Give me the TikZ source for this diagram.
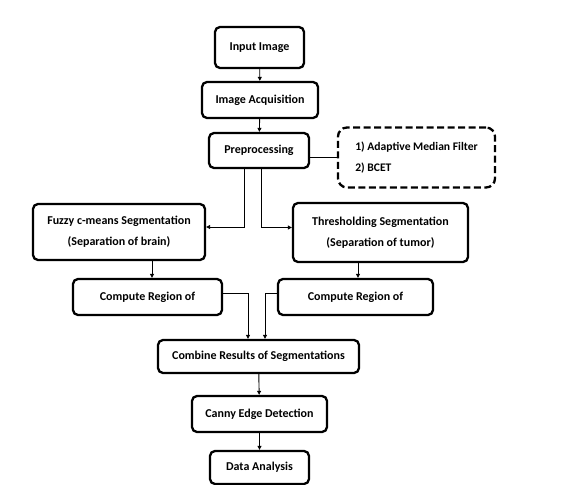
\documentclass[tikz,border=0pt]{standalone}
\usepackage{fontspec}
\setmainfont{Carlito}
\usetikzlibrary{arrows.meta}

\begin{document}
\begin{tikzpicture}[x=1pt,y=-1pt,
  stage/.style={draw,line width=2.3pt,rounded corners=5pt,align=center,
    font=\bfseries\fontsize{12}{21}\selectfont,inner sep=1pt},
  note/.style={draw,line width=2.3pt,dash pattern=on 7pt off 3.5pt,rounded corners=9pt,
    align=left,font=\bfseries\fontsize{11.6}{21}\selectfont,inner sep=1pt},
  link/.style={line width=0.9pt,-{Triangle[length=4pt,width=4pt]}}]
\useasboundingbox (0,0) rectangle (563,485);

\node[stage,minimum width=89,minimum height=41] (input) at (259.5,47.5) {Input Image};
\node[stage,minimum width=116,minimum height=36] (acq) at (260,100) {Image Acquisition};
\node[stage,minimum width=100,minimum height=35] (pre) at (259,150.5) {Preprocessing};
\node[note,minimum width=157,minimum height=60] (filt) at (416.5,157.5)
  {1) Adaptive Median Filter\\2) BCET};
\node[stage,minimum width=172,minimum height=56] (fuzzy) at (119,232)
  {Fuzzy c-means Segmentation\\(Separation of brain)};
\node[stage,minimum width=175,minimum height=59] (thresh) at (380.5,232.5)
  {Thresholding Segmentation\\(Separation of tumor)};
\node[stage,minimum width=149,minimum height=36] (crl) at (147.5,297) {Compute Region of};
\node[stage,minimum width=155,minimum height=36] (crr) at (355.5,297) {Compute Region of};
\node[stage,minimum width=201,minimum height=33] (comb) at (258.5,356.5) {Combine Results of Segmentations};
\node[stage,minimum width=135,minimum height=36] (canny) at (259.5,414) {Canny Edge Detection};
\node[stage,minimum width=99,minimum height=33] (data) at (259.5,467.5) {Data Analysis};

\draw[link] (input) -- (acq);
\draw[link] (acq) -- (pre);
\draw[line width=0.9pt] (filt.west) -- (filt.west -| pre.east);
\draw[link] ([xshift=-15pt]pre.south) |- ([yshift=5pt]fuzzy.east);
\draw[link] ([xshift=2pt]pre.south) |- ([yshift=5pt]thresh.west);
\draw[link] ([xshift=4.5pt]crl.north |- fuzzy.south) -- ([xshift=4.5pt]crl.north);
\draw[link] ([xshift=2.5pt]crr.north |- thresh.south) -- ([xshift=2.5pt]crr.north);
\draw[link] ([yshift=4pt]crl.east) -| ([xshift=-10.5pt]comb.north);
\draw[link] ([yshift=4pt]crr.west) -| ([xshift=6.5pt]comb.north);
\draw[link] (comb) -- (canny);
\draw[link] (canny) -- (data);
\end{tikzpicture}
\end{document}
